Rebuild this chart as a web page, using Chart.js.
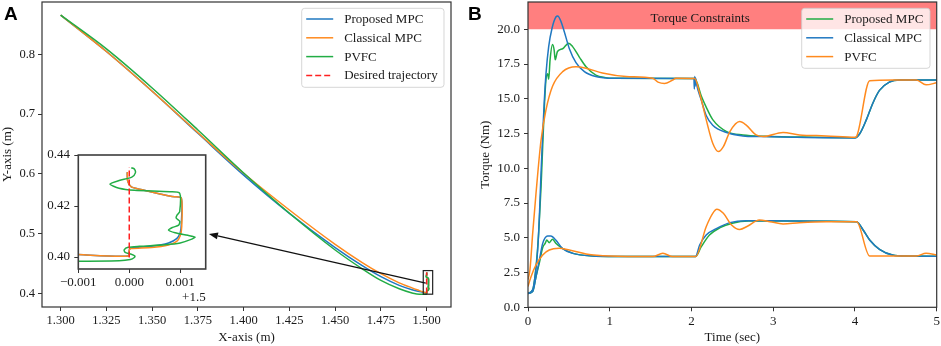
<!DOCTYPE html>
<html>
<head>
<meta charset="utf-8">
<script src="https://cdn.jsdelivr.net/npm/chart.js@4.4.0/dist/chart.umd.min.js"></script>
<style>
  body { margin: 0; background: #fff; }
  #wrap { position: relative; width: 941px; height: 346px; overflow: hidden; background: #fff; }
  canvas { position: absolute; }
  .tag { position: absolute; font: bold 19px "Liberation Sans", Arial, sans-serif; line-height: 19px; color: #000; }
</style>
</head>
<body>
<div id="wrap">
  <canvas id="chartA" width="470" height="346" style="left:0;top:0"></canvas>
  <canvas id="inset" width="195" height="160" style="left:20px;top:150px"></canvas>
  <canvas id="chartB" width="471" height="346" style="left:470px;top:0"></canvas>
  <div class="tag" style="left:4px;top:3.5px">A</div>
  <div class="tag" style="left:468px;top:3.5px">B</div>
</div>
<script>
// ---------- Panel A : end-effector path (m) ----------
const xTicksA = [1.300, 1.325, 1.350, 1.375, 1.400, 1.425, 1.450, 1.475, 1.500];
const yTicksA = [0.4, 0.5, 0.6, 0.7, 0.8];
const labelsA = ['Proposed MPC', 'Classical MPC', 'PVFC', 'Desired trajectory'];

const pathX      = [1.300, 1.325, 1.350, 1.375, 1.400, 1.425, 1.450, 1.465, 1.475, 1.485, 1.492, 1.496, 1.499];
const proposedY  = [0.866, 0.805, 0.7385, 0.668, 0.598, 0.534, 0.4765, 0.4458, 0.4278, 0.4133, 0.4060, 0.4028, 0.4012];
const classicalY = [0.866, 0.805, 0.7385, 0.669, 0.601, 0.5395, 0.482, 0.451, 0.4328, 0.4175, 0.4090, 0.4045, 0.4012];
const pvfcY      = [0.866, 0.8095, 0.744, 0.6735, 0.6015, 0.534, 0.4725, 0.4405, 0.4215, 0.4075, 0.4005, 0.3982, 0.3984];

// zoomed part near x = 1.5 : offsets in mm from 1.5 m
const insetTicksX = [-0.001, 0.000, 0.001];
const insetTicksY = [0.40, 0.42, 0.44];
const proposedDx = [-1.06, -0.013, 0.0, 0.04, 0.44, 0.77, 0.93, 1.0, 1.02, 1.02, 0.84, 0.25, 0.04, -0.03, -0.04];
const proposedDy = [0.4010, 0.4004, 0.4028, 0.4035, 0.4042, 0.4055, 0.4072, 0.4095, 0.4125, 0.4232, 0.4237, 0.4264, 0.4275, 0.4297, 0.4333];
const classicalDx = [-1.06, -0.013, 0.0, 0.04, 0.44, 0.77, 0.93, 1.0, 1.03, 1.02, 0.84, 0.25, 0.04, -0.03, -0.04];
const classicalDy = [0.4010, 0.4004, 0.4028, 0.4033, 0.4037, 0.4047, 0.4061, 0.4083, 0.4120, 0.4232, 0.4237, 0.4264, 0.4275, 0.4297, 0.4333];
const pvfcDx = [-1.06, -0.2, 0.02, 0.10, 0.11, 0.02, -0.08, -0.10, -0.02, 0.2, 0.7, 1.0, 1.2, 1.29, 1.15, 0.9, 0.77, 0.85, 0.97, 0.99, 0.92, 0.94, 0.99, 0.99, 0.8, 0.1, -0.2, -0.38, -0.2, 0.05, 0.12, 0.1, 0.04];
const pvfcDy = [0.3983, 0.3985, 0.3990, 0.3998, 0.4004, 0.4012, 0.4018, 0.4028, 0.4038, 0.4042, 0.4048, 0.4055, 0.4068, 0.4078, 0.4085, 0.4095, 0.4106, 0.4116, 0.4125, 0.4140, 0.4153, 0.4165, 0.4178, 0.4250, 0.4256, 0.4262, 0.4270, 0.4286, 0.4300, 0.4313, 0.4330, 0.4345, 0.4350];
const desiredDx = [0.0, 0.0];
const desiredDy = [0.3998, 0.4352];

// ---------- Panel B : joint torques (Nm) ----------
const xTicksB = [0, 1, 2, 3, 4, 5];
const yTicksB = [0, 2.5, 5, 7.5, 10, 12.5, 15, 17.5, 20];
const labelsB = ['Proposed MPC', 'Classical MPC', 'PVFC'];
const torqueLimit = 20;

const classicalUpT = [0, 0.057, 0.09, 0.118, 0.139, 0.159, 0.18, 0.2, 0.22, 0.253, 0.294, 0.343, 0.363, 0.404, 0.445, 0.506, 0.587, 0.69, 0.83, 1.04, 2.0, 2.03, 2.035, 2.04, 2.045, 2.05, 2.06, 2.12, 2.18, 2.26, 2.43, 2.63, 2.84, 3.24, 4.0, 4.06, 4.14, 4.22, 4.30, 4.42, 4.55, 5.0];
const classicalUp  = [1.0, 1.25, 2.4, 4.1, 6.5, 9.6, 12.5, 14.9, 16.8, 18.75, 20.07, 20.9, 20.96, 20.55, 19.8, 18.6, 17.6, 16.95, 16.6, 16.47, 16.45, 16.45, 15.7, 16.6, 15.9, 16.5, 16.1, 14.9, 13.8, 13.1, 12.57, 12.33, 12.28, 12.23, 12.18, 12.5, 13.5, 14.7, 15.6, 16.2, 16.35, 16.35];
const proposedUpT = [0, 0.057, 0.098, 0.13, 0.16, 0.18, 0.2, 0.22, 0.24, 0.253, 0.27, 0.30, 0.32, 0.333, 0.36, 0.424, 0.497, 0.546, 0.628, 0.71, 0.83, 0.95, 1.04, 2.0, 2.04, 2.12, 2.18, 2.26, 2.43, 2.63, 2.9, 3.3, 4.0, 4.06, 4.14, 4.22, 4.30, 4.42, 4.55, 5.0];
const proposedUp  = [1.0, 1.25, 2.9, 5.3, 8.7, 11.6, 14.4, 16.4, 16.8, 16.4, 17.8, 18.9, 18.5, 17.8, 18.4, 18.6, 19.0, 18.75, 18.0, 17.3, 16.7, 16.52, 16.47, 16.45, 16.45, 15.2, 14.4, 13.5, 12.64, 12.4, 12.3, 12.25, 12.2, 12.5, 13.5, 14.7, 15.6, 16.2, 16.35, 16.35];
const pvfcUpT = [0, 0.024, 0.057, 0.098, 0.159, 0.22, 0.30, 0.424, 0.587, 0.71, 0.91, 1.2, 1.525, 1.59, 1.67, 1.77, 1.81, 2.04, 2.10, 2.18, 2.26, 2.33, 2.39, 2.47, 2.59, 2.67, 2.79, 2.88, 3.12, 3.32, 3.65, 4.0, 4.02, 4.18, 4.47, 4.75, 4.87, 5.0];
const pvfcUp  = [2.0, 2.7, 5.3, 8.2, 12.0, 14.2, 15.9, 16.95, 17.3, 17.2, 16.85, 16.6, 16.47, 16.2, 16.1, 16.35, 16.47, 16.45, 15.4, 13.5, 11.8, 11.2, 11.55, 12.64, 13.36, 13.1, 12.4, 12.28, 12.57, 12.4, 12.33, 12.23, 12.3, 16.3, 16.35, 16.35, 16.0, 16.15];

const classicalLowT = [0, 0.057, 0.098, 0.139, 0.18, 0.24, 0.28, 0.34, 0.42, 0.55, 0.79, 1.0, 2.05, 2.10, 2.18, 2.31, 2.47, 2.67, 3.24, 4.02, 4.10, 4.18, 4.30, 4.46, 4.63, 5.0];
const classicalLow  = [1.0, 1.13, 2.2, 3.4, 4.6, 5.13, 5.13, 4.84, 4.24, 3.88, 3.69, 3.66, 3.65, 4.48, 5.2, 5.68, 6.09, 6.23, 6.21, 6.16, 5.56, 4.84, 4.17, 3.76, 3.69, 3.68];
const proposedLowT = [0, 0.057, 0.098, 0.139, 0.18, 0.21, 0.23, 0.26, 0.30, 0.34, 0.42, 0.55, 0.79, 1.0, 2.05, 2.12, 2.22, 2.35, 2.5, 2.7, 3.24, 4.02, 4.10, 4.18, 4.30, 4.46, 4.63, 5.0];
const proposedLow  = [1.0, 1.13, 2.2, 3.2, 4.3, 4.6, 4.84, 4.65, 4.9, 4.6, 4.24, 3.88, 3.69, 3.66, 3.65, 4.36, 5.2, 5.73, 6.05, 6.2, 6.21, 6.16, 5.56, 4.84, 4.17, 3.76, 3.69, 3.68];
const pvfcLowT = [0, 0.037, 0.098, 0.18, 0.26, 0.38, 0.506, 0.71, 1.0, 1.525, 1.65, 1.77, 2.05, 2.18, 2.26, 2.31, 2.39, 2.49, 2.59, 2.69, 2.83, 2.96, 3.12, 3.32, 3.65, 4.02, 4.18, 4.75, 4.87, 5.0];
const pvfcLow  = [1.5, 2.2, 3.05, 3.77, 4.12, 4.24, 4.12, 3.84, 3.69, 3.65, 3.88, 3.65, 3.65, 5.8, 6.76, 7.05, 6.76, 5.92, 5.6, 5.85, 6.28, 6.16, 6.0, 6.09, 6.16, 6.16, 3.69, 3.69, 3.88, 3.76];

// colours
const blue = '#1f78c1', orange = '#ff8a1e', green = '#22ad45', red = '#ff2020';
const serif = "'Liberation Serif', 'DejaVu Serif', serif";
const ink = '#1a1a1a';

Chart.defaults.font.family = serif;
Chart.defaults.color = ink;
Chart.defaults.animation = false;

function pts(xs, ys) {
  return xs.map((x, i) => ({x: x, y: ys[i]}));
}
function offPts(dx, ys, base) {
  return dx.map((d, i) => ({x: base + d / 1000, y: ys[i]}));
}
function curve(data, color, smooth) {
  return {
    data: data, borderColor: color, borderWidth: 1.5, pointRadius: 0, fill: false,
    cubicInterpolationMode: smooth ? 'monotone' : 'default', tension: smooth ? 0 : 0.25
  };
}

function frameBox(color, width) {
  return {
    id: 'frameBox',
    afterDatasetsDraw(chart) {
      const a = chart.chartArea, ctx = chart.ctx;
      ctx.save();
      ctx.strokeStyle = color;
      ctx.lineWidth = width;
      ctx.strokeRect(a.left, a.top, a.right - a.left, a.bottom - a.top);
      ctx.restore();
    }
  };
}

function drawLegend(ctx, box, labels, colors, dashes) {
  ctx.save();
  ctx.fillStyle = 'rgba(255,255,255,0.8)';
  ctx.strokeStyle = 'rgba(204,204,204,0.8)';
  ctx.lineWidth = 1;
  ctx.beginPath();
  if (ctx.roundRect) ctx.roundRect(box.x, box.y, box.w, box.h, 3);
  else ctx.rect(box.x, box.y, box.w, box.h);
  ctx.fill();
  ctx.stroke();
  ctx.font = '13px ' + serif;
  ctx.textBaseline = 'middle';
  labels.forEach((lab, i) => {
    const cy = box.y + 10.7 + i * 18.8;
    ctx.strokeStyle = colors[i];
    ctx.lineWidth = 1.5;
    ctx.setLineDash(dashes[i] || []);
    ctx.beginPath();
    ctx.moveTo(box.x + 4.5, cy);
    ctx.lineTo(box.x + 31.5, cy);
    ctx.stroke();
    ctx.setLineDash([]);
    ctx.fillStyle = ink;
    ctx.fillText(lab, box.x + 42.5, cy + 0.5);
  });
  ctx.restore();
}

// fixed axis sizes, no extra room for edge labels
function fixSize(prop, size) {
  return s => {
    s[prop] = size;
    s.paddingTop = 0; s.paddingBottom = 0; s.paddingLeft = 0; s.paddingRight = 0;
  };
}

function axisStyle(extra) {
  return Object.assign({
    type: 'linear',
    grid: {drawOnChartArea: false, tickLength: 4, color: '#333', lineWidth: 1},
    border: {display: false}
  }, extra);
}

// ---------- chart A ----------
const zoomBox = {x0: 1.49814, x1: 1.50328, y0: 0.39846, y1: 0.438};
const arrowTail = {x: 1.4995, y: 0.417};
const arrowHead = {x: 1.381, y: 0.4995};

const annotA = {
  id: 'annotA',
  afterDraw(chart) {
    const ctx = chart.ctx, sx = chart.scales.x, sy = chart.scales.y;
    ctx.save();
    // zoom rectangle
    const rx0 = sx.getPixelForValue(zoomBox.x0), rx1 = sx.getPixelForValue(zoomBox.x1);
    const ry0 = sy.getPixelForValue(zoomBox.y0), ry1 = sy.getPixelForValue(zoomBox.y1);
    ctx.strokeStyle = '#222';
    ctx.lineWidth = 1.2;
    ctx.strokeRect(rx0, ry1, rx1 - rx0, ry0 - ry1);
    // arrow to inset
    const tx = sx.getPixelForValue(arrowTail.x), ty = sy.getPixelForValue(arrowTail.y);
    const hx = sx.getPixelForValue(arrowHead.x), hy = sy.getPixelForValue(arrowHead.y);
    const ang = Math.atan2(hy - ty, hx - tx);
    const hl = 9, hw = 3.5;
    const bx = hx - hl * Math.cos(ang), by = hy - hl * Math.sin(ang);
    ctx.strokeStyle = '#111';
    ctx.lineWidth = 1.2;
    ctx.beginPath();
    ctx.moveTo(tx, ty);
    ctx.lineTo(bx, by);
    ctx.stroke();
    ctx.fillStyle = '#111';
    ctx.beginPath();
    ctx.moveTo(hx, hy);
    ctx.lineTo(bx + hw * Math.sin(ang), by - hw * Math.cos(ang));
    ctx.lineTo(bx - hw * Math.sin(ang), by + hw * Math.cos(ang));
    ctx.closePath();
    ctx.fill();
    ctx.restore();
    drawLegend(ctx, {x: 301.7, y: 8.3, w: 142.3, h: 79}, labelsA,
      [blue, orange, green, red], [null, null, null, [6, 3]]);
  }
};

function desiredSet(base) {
  const d = curve(offPts(desiredDx, desiredDy, base), red, false);
  d.borderDash = [6, 3];
  d.tension = 0;
  return d;
}

new Chart(document.getElementById('chartA'), {
  type: 'line',
  data: {
    datasets: [
      desiredSet(1.5),
      curve(offPts(pvfcDx, pvfcDy, 1.5), green, false),
      curve(pts(pathX, pvfcY), green, true),
      curve(offPts(classicalDx, classicalDy, 1.5), orange, false),
      curve(pts(pathX, classicalY), orange, true),
      curve(offPts(proposedDx, proposedDy, 1.5), blue, false),
      curve(pts(pathX, proposedY), blue, true)
    ]
  },
  options: {
    responsive: false,
    layout: {padding: {left: 0, right: 19, top: 2, bottom: 0}},
    plugins: {legend: {display: false}, tooltip: {enabled: false}},
    scales: {
      x: axisStyle({
        min: 1.2898, max: 1.5133,
        afterBuildTicks: s => { s.ticks = xTicksA.map(v => ({value: v})); },
        afterFit: fixSize('height', 39),
        ticks: {callback: v => v.toFixed(3), padding: 2, font: {size: 12.5}, maxRotation: 0, autoSkip: false},
        title: {display: true, text: 'X-axis (m)', font: {size: 13}, padding: {top: 0, bottom: 0.5}}
      }),
      y: axisStyle({
        min: 0.377, max: 0.888,
        afterBuildTicks: s => { s.ticks = yTicksA.map(v => ({value: v})); },
        afterFit: fixSize('width', 42),
        ticks: {callback: v => v.toFixed(1), padding: 3, font: {size: 12.5}, autoSkip: false},
        title: {display: true, text: 'Y-axis (m)', font: {size: 13}, padding: {top: 0, bottom: 0}}
      })
    }
  },
  plugins: [frameBox('#333', 1.2), annotA]
});

// ---------- inset ----------
const insetDecor = {
  id: 'insetDecor',
  beforeDatasetsDraw(chart) {
    const a = chart.chartArea, ctx = chart.ctx;
    ctx.save();
    ctx.fillStyle = '#fff';
    ctx.fillRect(a.left, a.top, a.right - a.left, a.bottom - a.top);
    ctx.restore();
  },
  afterDraw(chart) {
    const a = chart.chartArea, ctx = chart.ctx;
    ctx.save();
    ctx.font = '13px ' + serif;
    ctx.fillStyle = ink;
    ctx.textAlign = 'right';
    ctx.textBaseline = 'middle';
    ctx.fillText('+1.5', a.right, a.bottom + 28.7);
    ctx.restore();
  }
};

new Chart(document.getElementById('inset'), {
  type: 'line',
  data: {
    datasets: [
      desiredSet(0),
      curve(offPts(pvfcDx, pvfcDy, 0), green, false),
      curve(offPts(classicalDx, classicalDy, 0), orange, false),
      curve(offPts(proposedDx, proposedDy, 0), blue, false)
    ]
  },
  options: {
    responsive: false,
    layout: {padding: {left: 0, right: 9.3, top: 5, bottom: 0}},
    plugins: {legend: {display: false}, tooltip: {enabled: false}},
    scales: {
      x: axisStyle({
        min: -0.001, max: 0.0015,
        afterBuildTicks: s => { s.ticks = insetTicksX.map(v => ({value: v})); },
        afterFit: fixSize('height', 41),
        ticks: {callback: v => (v < 0 ? '\u2212' : '') + Math.abs(v).toFixed(3), padding: 2, font: {size: 13}, maxRotation: 0, autoSkip: false}
      }),
      y: axisStyle({
        min: 0.3953, max: 0.44,
        afterBuildTicks: s => { s.ticks = insetTicksY.map(v => ({value: v})); },
        afterFit: fixSize('width', 58.3),
        ticks: {callback: v => v.toFixed(2), padding: 4.3, font: {size: 13}, autoSkip: false}
      })
    }
  },
  plugins: [insetDecor, frameBox('#3d3d3d', 1.6)]
});

// ---------- chart B ----------
const annotB = {
  id: 'annotB',
  afterDatasetsDraw(chart) {
    const ctx = chart.ctx, sx = chart.scales.x, sy = chart.scales.y;
    ctx.save();
    ctx.font = '13px ' + serif;
    ctx.fillStyle = ink;
    ctx.textAlign = 'left';
    ctx.textBaseline = 'alphabetic';
    ctx.fillText('Torque Constraints', sx.getPixelForValue(1.5), sy.getPixelForValue(20.5));
    ctx.restore();
  },
  afterDraw(chart) {
    drawLegend(chart.ctx, {x: 331.7, y: 8.3, w: 128.3, h: 60}, labelsB,
      [green, blue, orange], [null, null, null]);
  }
};

new Chart(document.getElementById('chartB'), {
  type: 'line',
  data: {
    datasets: [
      curve(pts(pvfcUpT, pvfcUp), orange, true),
      curve(pts(pvfcLowT, pvfcLow), orange, true),
      curve(pts(classicalUpT, classicalUp), blue, true),
      curve(pts(classicalLowT, classicalLow), blue, true),
      curve(pts(proposedUpT, proposedUp), green, true),
      curve(pts(proposedLowT, proposedLow), green, true),
      {
        data: pts([0, 5], [23, 23]), borderWidth: 0, pointRadius: 0,
        fill: {value: torqueLimit}, backgroundColor: 'rgba(255,0,0,0.5)'
      }
    ]
  },
  options: {
    responsive: false,
    layout: {padding: {left: 0, right: 4.3, top: 2, bottom: 0}},
    plugins: {legend: {display: false}, tooltip: {enabled: false}},
    scales: {
      x: axisStyle({
        min: 0, max: 5,
        afterBuildTicks: s => { s.ticks = xTicksB.map(v => ({value: v})); },
        afterFit: fixSize('height', 38.7),
        ticks: {callback: v => String(v), padding: 2, font: {size: 13}, maxRotation: 0, autoSkip: false},
        title: {display: true, text: 'Time (sec)', font: {size: 13}, padding: {top: 0, bottom: 0.5}}
      }),
      y: axisStyle({
        min: 0, max: 21.96,
        afterBuildTicks: s => { s.ticks = yTicksB.map(v => ({value: v})); },
        afterFit: fixSize('width', 58),
        ticks: {callback: v => v.toFixed(1), padding: 4, font: {size: 13}, autoSkip: false},
        title: {display: true, text: 'Torque (Nm)', font: {size: 13}, padding: {top: 8, bottom: 0}}
      })
    }
  },
  plugins: [frameBox('#333', 1.2), annotB]
});
</script>
</body>
</html>
